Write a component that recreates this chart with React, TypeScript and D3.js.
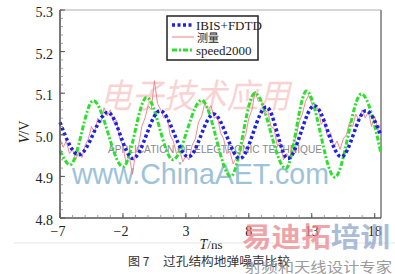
import React from "react";
import * as d3 from "d3";

const yTicks = [4.8, 4.9, 5.0, 5.1, 5.2, 5.3];
const xTicks = [-7, -2, 3, 8, 13, 18];

const blueT = [-7, -5.5, -3.2, -1.2, 0.95, 3.2, 5.2, 7.3, 9.4, 11.1, 13.2, 15.35, 17.3, 18.5];
const blueV = [5.03, 4.952, 5.054, 4.943, 5.058, 4.947, 5.05, 4.943, 5.067, 4.943, 5.07, 4.947, 5.058, 4.998];

const greenT = [-7, -6.2, -4.36, -1.98, -0.12, 1.97, 4.25, 6.57, 8.48, 10.94, 12.58, 14.83, 16.94, 18.5];
const greenV = [4.962, 4.928, 5.082, 4.923, 5.09, 4.94, 5.083, 4.9, 5.1, 4.919, 5.105, 4.898, 5.098, 4.955];

const redStart = -7;
const redStep = 0.25;
const redV = [
  4.99, 4.97, 4.985, 4.955, 4.965, 4.94, 4.96, 4.945, 4.975, 4.99,
  5.02, 5.005, 5.04, 5.03, 5.065, 5.045, 5.06, 5.03, 5.035, 4.99,
  4.975, 4.93, 4.95, 4.905, 4.955, 4.975, 5.02, 5.04, 5.07, 5.06,
  5.13, 5.075, 5.06, 5.04, 5.045, 5.0, 4.985, 4.955, 4.965, 4.935,
  4.95, 4.94, 4.975, 4.99, 5.03, 5.045, 5.075, 5.06, 5.07, 5.04,
  5.045, 5.005, 4.99, 4.955, 4.96, 4.93, 4.945, 4.95, 4.98, 5.0,
  5.04, 5.06, 5.105, 5.08, 5.085, 5.05, 5.06, 5.02, 5.015, 4.975,
  4.98, 4.94, 4.955, 4.945, 4.975, 4.995, 5.03, 5.05, 5.08, 5.095,
  5.075, 5.06, 5.065, 5.025, 5.035, 4.995, 5.005, 4.97, 4.985, 4.965,
  4.99, 5.0, 5.03, 5.02, 5.05, 5.035, 5.06, 5.04, 5.055, 5.02,
  5.045, 5.01, 5.03,
];

const legendLabels = ["IBIS+FDTD", "测量", "speed2000"];
const captionNum = "图 7";
const captionText = "过孔结构地弹噪声比较";

const W = 395;
const H = 274;

export default function App() {
  const x = d3.scaleLinear().domain([-7, 18.5]).range([60, 381]);
  const y = d3.scaleLinear().domain([4.8, 5.3]).range([218, 10]);

  const line = d3
    .line<[number, number]>()
    .x((d) => x(d[0]))
    .y((d) => y(d[1]))
    .curve(d3.curveMonotoneX);
  const rawLine = d3
    .line<[number, number]>()
    .x((d) => x(d[0]))
    .y((d) => y(d[1]));

  const blue: [number, number][] = blueT.map((t, i) => [t, blueV[i]]);
  const green: [number, number][] = greenT.map((t, i) => [t, greenV[i]]);
  const red: [number, number][] = redV.map((v, i) => [redStart + i * redStep, v]);

  const yMinor = d3.range(4.8, 5.3001, 0.02);
  const xMinor = d3.range(-7, 18.51, 1);

  const serif = "Liberation Serif, Times New Roman, serif";
  const cjk = "Noto Sans CJK SC, sans-serif";

  return (
    <svg
      width={W}
      height={H}
      style={{ position: "absolute", left: 0, top: 0, background: "#fff" }}
    >
      <rect x={0} y={0} width={W} height={H} fill="#fff" />
      <line x1={60} y1={10} x2={381} y2={10} stroke="#c8c8c8" strokeWidth={1.5} />
      <line x1={381} y1={10} x2={381} y2={218} stroke="#9a9a9a" strokeWidth={2} />

      {/* watermarks behind the data */}
      <text
        x={195}
        y={108}
        fontFamily={cjk}
        fontStyle="italic"
        fontSize={34}
        fill="#ee7a7a"
        opacity={0.32}
        textAnchor="middle"
        textLength={190}
        lengthAdjust="spacingAndGlyphs"
      >
        电子技术应用
      </text>
      <text
        x={108}
        y={153}
        fontFamily="Liberation Sans, Arial, sans-serif"
        fontSize={11}
        fill="#8a8a8a"
        textLength={214}
        lengthAdjust="spacingAndGlyphs"
      >
        APPLICATION OF ELECTRONIC TECHNIQUE
      </text>
      <text
        x={72}
        y={184}
        fontFamily="Liberation Sans, Arial, sans-serif"
        fontSize={29}
        fill="#9cc3da"
        textLength={257}
        lengthAdjust="spacingAndGlyphs"
      >
        www.ChinaAET.com
      </text>

      {/* series */}
      <path d={rawLine(red) ?? ""} fill="none" stroke="#f07f7f" strokeWidth={0.9} />
      <path
        d={line(green) ?? ""}
        fill="none"
        stroke="#2ee02e"
        strokeWidth={3}
        strokeDasharray="5,2,2,2"
      />
      <path
        d={line(blue) ?? ""}
        fill="none"
        stroke="#1f1fe8"
        strokeWidth={3.5}
        strokeDasharray="3,2.5"
      />

      {/* axes */}
      <line x1={60} y1={10} x2={60} y2={218} stroke="#555" strokeWidth={1.6} />
      <line x1={60} y1={218} x2={381} y2={218} stroke="#555" strokeWidth={1.6} />
      {yMinor.map((v, i) => (
        <line key={"ym" + i} x1={60} x2={63} y1={y(v)} y2={y(v)} stroke="#888" strokeWidth={0.8} />
      ))}
      {yTicks.map((v) => (
        <g key={"yt" + v}>
          <line x1={60} x2={65} y1={y(v)} y2={y(v)} stroke="#555" strokeWidth={1} />
          <text
            x={53}
            y={y(v) + 7}
            textAnchor="end"
            fontFamily={serif}
            fontSize={14}
            fill="#222"
          >
            {v.toFixed(1)}
          </text>
        </g>
      ))}
      {xMinor.map((v, i) => (
        <line key={"xm" + i} x1={x(v)} x2={x(v)} y1={218} y2={215} stroke="#888" strokeWidth={0.8} />
      ))}
      {xTicks.map((v) => (
        <g key={"xt" + v}>
          <line x1={x(v)} x2={x(v)} y1={218} y2={213} stroke="#555" strokeWidth={1} />
          <text
            x={x(v) - (v < 0 ? 2 : 0)}
            y={236}
            textAnchor="middle"
            fontFamily={serif}
            fontSize={14}
            fill="#222"
          >
            {v < 0 ? "\u2212" + Math.abs(v) : String(v)}
          </text>
        </g>
      ))}

      {/* axis titles */}
      <text
        transform="translate(29,132) rotate(-90)"
        textAnchor="middle"
        fontFamily={serif}
        fontSize={14}
        fill="#222"
      >
        <tspan fontStyle="italic">V</tspan>/V
      </text>
      <text x={211} y={249} textAnchor="middle" fontFamily={serif} fontSize={13} fill="#222">
        <tspan fontStyle="italic" fontSize={14}>T</tspan>/ns
      </text>

      {/* legend */}
      <rect x={167} y={16} width={91} height={44} fill="#fff" stroke="#222" strokeWidth={1.5} />
      <line x1={172} x2={194} y1={25} y2={25} stroke="#1f1fe8" strokeWidth={3.5} strokeDasharray="3,2.5" />
      <line x1={172} x2={194} y1={37} y2={37} stroke="#f07f7f" strokeWidth={1} />
      <line x1={172} x2={194} y1={50} y2={50} stroke="#2ee02e" strokeWidth={3} strokeDasharray="5,2,2,2" />
      <text x={196} y={30} fontFamily={serif} fontSize={13} fill="#222">
        {legendLabels[0]}
      </text>
      <text x={197} y={42} fontFamily={cjk} fontSize={11} fill="#222">
        {legendLabels[1]}
      </text>
      <text x={196} y={55} fontFamily={serif} fontSize={13} fill="#222">
        {legendLabels[2]}
      </text>

      {/* separator and caption */}
      <line x1={14} x2={395} y1={243} y2={243} stroke="#e6e6e6" strokeWidth={1} />
      <text x={128} y={266} fontFamily={cjk} fontSize={12} fill="#333">
        {captionNum}
      </text>
      <text
        x={163}
        y={266}
        fontFamily={cjk}
        fontSize={12}
        fill="#333"
        textLength={127}
        lengthAdjust="spacingAndGlyphs"
      >
        {captionText}
      </text>

      {/* bottom-right watermark */}
      <text
        x={242}
        y={247}
        fontFamily={cjk}
        fontWeight={700}
        fontSize={27}
        textLength={148}
        lengthAdjust="spacingAndGlyphs"
        opacity={0.75}
      >
        <tspan fill="#e9868b">易迪拓</tspan>
        <tspan fill="#8ea7cc">培训</tspan>
      </text>
      <text
        x={245}
        y={272}
        fontFamily={cjk}
        fontSize={14}
        fill="#8a8a8a"
        opacity={0.85}
        textLength={147}
        lengthAdjust="spacingAndGlyphs"
      >
        射频和天线设计专家
      </text>
    </svg>
  );
}
